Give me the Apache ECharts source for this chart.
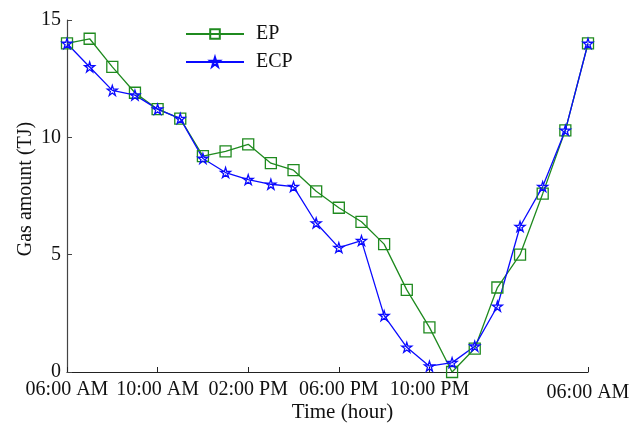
<!DOCTYPE html>
<html>
<head>
<meta charset="utf-8">
<script src="https://cdn.jsdelivr.net/npm/echarts@6/dist/echarts.min.js"></script>
<style>
  html, body { margin: 0; padding: 0; background: #fff; }
  #chart { width: 644px; height: 424px; }
</style>
</head>
<body>
<div id="chart"></div>
<script>
// hourly samples, 24 points
const hours = ['1','2','3','4','5','6','7','8','9','10','11','12','13','14','15','16','17','18','19','20','21','22','23','24'];
const tickIndex = [0, 4, 8, 12, 16, 23];
const tickLabels = ['06:00 AM', '10:00 AM', '02:00 PM', '06:00 PM', '10:00 PM', '06:00 AM'];

const ep = [14.0, 14.2, 13.0, 11.9, 11.2, 10.8, 9.2, 9.4, 9.7, 8.9, 8.6, 7.7,
            7.0, 6.4, 5.45, 3.5, 1.9, 0.0, 1.0, 3.6, 5.0, 7.6, 10.3, 14.0];
const ecp = [14.0, 13.0, 12.0, 11.8, 11.2, 10.8, 9.1, 8.5, 8.2, 8.0, 7.9, 6.35,
             5.3, 5.6, 2.4, 1.05, 0.25, 0.4, 1.1, 2.8, 6.2, 7.9, 10.3, 14.0];

const yTicks = [0, 5, 10, 15];

const green = '#1f8a1f';
const blue = '#0a0aff';
const font = 'Liberation Serif';
const star = 'path://M50,0 L61.8,36.2 L100,36.2 L69.1,58.8 L80.9,95.1 L50,72.7 L19.1,95.1 L30.9,58.8 L0,36.2 L38.2,36.2 Z';

const chart = echarts.init(document.getElementById('chart'));
chart.setOption({
  animation: false,
  textStyle: { fontFamily: font },
  grid: { left: 67, right: 56, top: 20, bottom: 52, containLabel: false, outerBoundsMode: 'none' },
  legend: {
    orient: 'vertical',
    left: 180,
    top: 19,
    itemWidth: 58,
    itemHeight: 12,
    itemGap: 8,
    textStyle: { fontFamily: font, fontSize: 20, color: '#111', padding: [0, 0, 0, 7] },
    data: ['EP', 'ECP']
  },
  xAxis: {
    type: 'category',
    boundaryGap: false,
    data: hours,
    name: 'Time (hour)',
    nameLocation: 'middle',
    nameGap: 30,
    nameMoveOverlap: false,
    nameTextStyle: { fontFamily: font, fontSize: 21, color: '#111', padding: [0, 0, 0, 30] },
    axisLine: { lineStyle: { color: '#222', width: 1.2 } },
    axisTick: {
      inside: true,
      length: 5,
      interval: (i) => tickIndex.includes(i),
      lineStyle: { color: '#222' }
    },
    axisLabel: {
      interval: (i) => tickIndex.includes(i),
      formatter: (v, i) => {
        const k = tickIndex.indexOf(i);
        if (k < 0) return '';
        return k === tickIndex.length - 1 ? '{last|' + tickLabels[k] + '}' : tickLabels[k];
      },
      fontFamily: font,
      fontSize: 20,
      color: '#111',
      margin: 8,
      rich: { last: { fontFamily: font, fontSize: 20, color: '#111', padding: [3, 0, 0, 0] } }
    },
    splitLine: { show: false }
  },
  yAxis: {
    type: 'value',
    min: yTicks[0],
    max: yTicks[yTicks.length - 1],
    interval: 5,
    name: 'Gas amount (TJ)',
    nameLocation: 'middle',
    nameGap: 31,
    nameMoveOverlap: false,
    nameTextStyle: { fontFamily: font, fontSize: 20, color: '#111', padding: [0, 0, 0, 14] },
    axisLine: { show: true, lineStyle: { color: '#444', width: 1.2 } },
    axisTick: { show: true, inside: true, length: 5, lineStyle: { color: '#444' } },
    axisLabel: { fontFamily: font, fontSize: 20, color: '#111', margin: 6 },
    splitLine: { show: false }
  },
  series: [
    {
      name: 'EP',
      type: 'line',
      data: ep,
      symbol: 'rect',
      symbolSize: 11,
      lineStyle: { color: green, width: 1.3 },
      itemStyle: { color: 'transparent', borderColor: green, borderWidth: 1.3 }
    },
    {
      name: 'ECP',
      type: 'line',
      data: ecp,
      symbol: star,
      symbolSize: 10,
      lineStyle: { color: blue, width: 1.3 },
      itemStyle: { color: 'transparent', borderColor: blue, borderWidth: 1.3 }
    }
  ]
});
</script>
</body>
</html>
